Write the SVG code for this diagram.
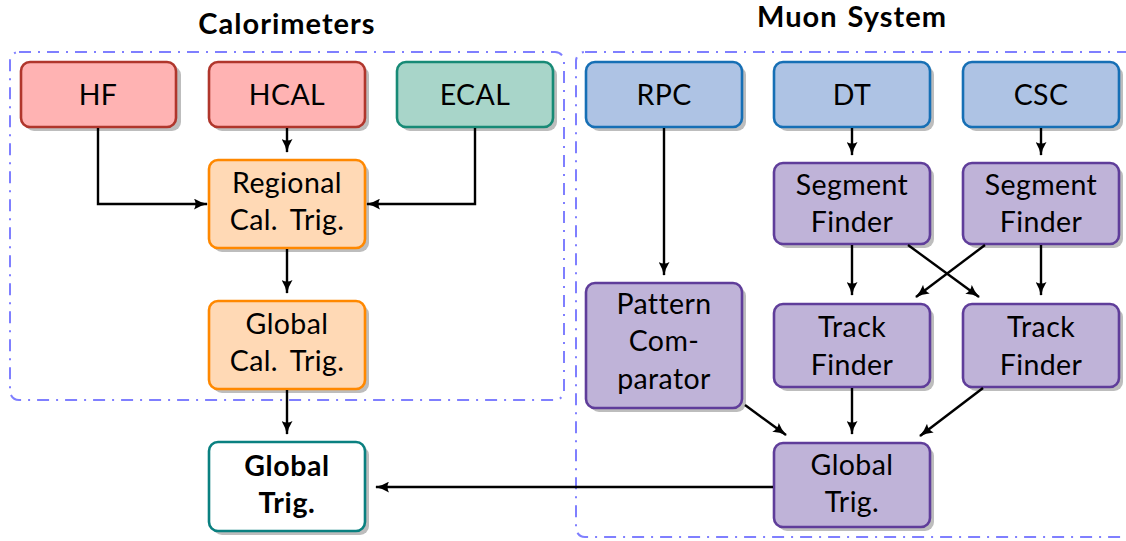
<svg xmlns="http://www.w3.org/2000/svg" width="1126" height="541" viewBox="0 0 1126 541">
<style>
.t{font-family:Lato,"Open Sans","Liberation Sans",sans-serif;font-size:28.5px;fill:#000;text-anchor:middle;word-spacing:5px;letter-spacing:0.4px}
.b{font-weight:bold;letter-spacing:0.6px}
.title{font-family:Lato,"Open Sans","Liberation Sans",sans-serif;font-size:29px;font-weight:bold;text-anchor:middle;letter-spacing:1px;word-spacing:2px}
.sh{fill:#bdbdbd}
.box{stroke-width:2.6}
.red{fill:#FFB3B3;stroke:#B0362C}
.teal{fill:#A8D5C9;stroke:#178A76}
.org{fill:#FFD9B5;stroke:#FF8800}
.blue{fill:#AEC3E4;stroke:#166FB5}
.pur{fill:#BFB3D8;stroke:#5F3D9A}
.wht{fill:#fff;stroke:#0A8080}
.grp{fill:none;stroke:#7F7FFF;stroke-width:2;stroke-dasharray:12 7 2 7}
.c{fill:none;stroke:#000;stroke-width:2.4;marker-end:url(#ah)}
</style>
<defs>
<marker id="ah" viewBox="0 0 14 11" refX="13" refY="5.5" markerWidth="14" markerHeight="11" markerUnits="userSpaceOnUse" orient="auto">
<path d="M0,0 Q6,4 14,5.5 Q6,7 0,11 Q3,5.5 0,0 Z" fill="#000"/>
</marker>
</defs>
<rect width="1126" height="541" fill="#fff"/>

<g id="group-calorimeters">
<rect class="grp" x="10" y="52" width="554" height="348" rx="9"/>
<text class="title" x="287" y="34">Calorimeters</text>
</g>
<g id="group-muon">
<rect class="grp" x="576" y="52" width="570" height="485" rx="9"/>
<text class="title" x="852" y="27">Muon System</text>
</g>

<g id="HF">
<rect class="sh" x="25" y="66" width="156" height="65" rx="9"/>
<rect class="box red" x="21" y="62" width="155" height="65" rx="9"/>
<text class="t" x="98" y="105">HF</text>
</g>
<g id="HCAL">
<rect class="sh" x="213" y="66" width="156" height="65" rx="9"/>
<rect class="box red" x="209" y="62" width="156" height="65" rx="9"/>
<text class="t" x="287" y="105">HCAL</text>
</g>
<g id="ECAL">
<rect class="sh" x="401" y="66" width="156" height="65" rx="9"/>
<rect class="box teal" x="397" y="62" width="156" height="65" rx="9"/>
<text class="t" x="475" y="105">ECAL</text>
</g>
<g id="RegionalCalTrig">
<rect class="sh" x="213" y="164" width="156" height="88" rx="9"/>
<rect class="box org" x="209" y="160" width="156" height="88" rx="9"/>
<text class="t" x="287" y="193">Regional</text>
<text class="t" x="287" y="230">Cal. Trig.</text>
</g>
<g id="GlobalCalTrig">
<rect class="sh" x="213" y="305" width="156" height="88" rx="9"/>
<rect class="box org" x="209" y="301" width="156" height="88" rx="9"/>
<text class="t" x="287" y="334">Global</text>
<text class="t" x="287" y="371">Cal. Trig.</text>
</g>
<g id="GlobalTrig">
<rect class="sh" x="213" y="446" width="156" height="89" rx="9"/>
<rect class="box wht" x="209" y="442" width="156" height="89" rx="9"/>
<text class="t b" x="287" y="476">Global</text>
<text class="t b" x="287" y="513">Trig.</text>
</g>

<g id="RPC">
<rect class="sh" x="590" y="66" width="156" height="65" rx="9"/>
<rect class="box blue" x="586" y="62" width="156" height="65" rx="9"/>
<text class="t" x="664" y="105">RPC</text>
</g>
<g id="DT">
<rect class="sh" x="778" y="66" width="156" height="65" rx="9"/>
<rect class="box blue" x="774" y="62" width="156" height="65" rx="9"/>
<text class="t" x="852" y="105">DT</text>
</g>
<g id="CSC">
<rect class="sh" x="967" y="66" width="156" height="65" rx="9"/>
<rect class="box blue" x="963" y="62" width="156" height="65" rx="9"/>
<text class="t" x="1041" y="105">CSC</text>
</g>
<g id="SegmentFinderDT">
<rect class="sh" x="778" y="167" width="156" height="81" rx="9"/>
<rect class="box pur" x="774" y="163" width="156" height="81" rx="9"/>
<text class="t" x="852" y="195">Segment</text>
<text class="t" x="852" y="232">Finder</text>
</g>
<g id="SegmentFinderCSC">
<rect class="sh" x="967" y="167" width="156" height="81" rx="9"/>
<rect class="box pur" x="963" y="163" width="156" height="81" rx="9"/>
<text class="t" x="1041" y="195">Segment</text>
<text class="t" x="1041" y="232">Finder</text>
</g>
<g id="PatternComparator">
<rect class="sh" x="590" y="287" width="156" height="125" rx="9"/>
<rect class="box pur" x="586" y="283" width="156" height="125" rx="9"/>
<text class="t" x="664" y="314">Pattern</text>
<text class="t" x="664" y="351">Com-</text>
<text class="t" x="664" y="389">parator</text>
</g>
<g id="TrackFinderDT">
<rect class="sh" x="778" y="308" width="156" height="83" rx="9"/>
<rect class="box pur" x="774" y="304" width="156" height="83" rx="9"/>
<text class="t" x="852" y="337">Track</text>
<text class="t" x="852" y="375">Finder</text>
</g>
<g id="TrackFinderCSC">
<rect class="sh" x="967" y="308" width="156" height="83" rx="9"/>
<rect class="box pur" x="963" y="304" width="156" height="83" rx="9"/>
<text class="t" x="1041" y="337">Track</text>
<text class="t" x="1041" y="375">Finder</text>
</g>
<g id="MuonGlobalTrig">
<rect class="sh" x="778" y="447" width="156" height="84" rx="9"/>
<rect class="box pur" x="774" y="443" width="156" height="84" rx="9"/>
<text class="t" x="852" y="475">Global</text>
<text class="t" x="852" y="512">Trig.</text>
</g>

<g id="connectors">
<path class="c" d="M98,128 V204 H207"/>
<path class="c" d="M287,128 V152"/>
<path class="c" d="M475,128 V204 H367"/>
<path class="c" d="M287,249 V293"/>
<path class="c" d="M287,390 V434"/>
<path class="c" d="M664,128 V275"/>
<path class="c" d="M852,128 V155"/>
<path class="c" d="M1041,128 V155"/>
<path class="c" d="M852,245 V295"/>
<path class="c" d="M1041,245 V295"/>
<path class="c" d="M908,245 L979,297"/>
<path class="c" d="M985,245 L916,297"/>
<path class="c" d="M745,405 L786,435"/>
<path class="c" d="M852,388 V434"/>
<path class="c" d="M983,388 L920,436"/>
<path class="c" d="M773,487 H376"/>
</g>
</svg>
